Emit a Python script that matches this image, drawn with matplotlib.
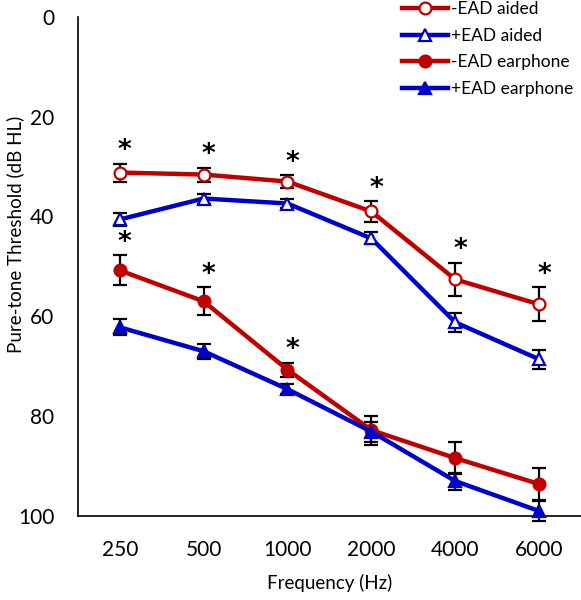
import matplotlib
matplotlib.use("Agg")
import matplotlib.pyplot as plt
import numpy as np

plt.rcParams['font.family'] = ['Lato', 'DejaVu Sans']

freqs = ["250", "500", "1000", "2000", "4000", "6000"]
minus_aided = [31.2, 31.6, 33.0, 39.0, 52.6, 57.6]
minus_aided_err = [1.8, 1.4, 1.3, 2.1, 3.3, 3.4]
plus_aided = [40.6, 36.4, 37.4, 44.4, 61.2, 68.6]
plus_aided_err = [1.3, 1.0, 1.0, 1.2, 1.9, 1.9]
minus_ear = [50.8, 57.0, 70.7, 82.8, 88.4, 93.6]
minus_ear_err = [3.0, 2.8, 1.4, 2.9, 3.2, 3.2]
plus_ear = [62.2, 67.0, 74.6, 83.1, 93.0, 99.0]
plus_ear_err = [1.6, 1.5, 1.0, 2.0, 1.7, 2.0]
sig_aided = [True, True, True, True, True, True]
sig_ear = [True, True, True, False, False, False]

red = "#C00000"
blue = "#0000C8"

fig = plt.figure(figsize=(5.81, 6.0), dpi=100)
ax = fig.add_axes([0.134, 0.14, 0.866, 0.832])
x = np.arange(len(freqs))

series = [
    ("-EAD aided", minus_aided, minus_aided_err, red, "o", "white"),
    ("+EAD aided", plus_aided, plus_aided_err, blue, "^", "white"),
    ("-EAD earphone", minus_ear, minus_ear_err, red, "o", red),
    ("+EAD earphone", plus_ear, plus_ear_err, blue, "^", blue),
]
for label, y, e, c, m, fc in series:
    ax.errorbar(x, y, yerr=e, fmt="none", ecolor="black", elinewidth=1.6,
                capsize=5, capthick=1.6, zorder=3, clip_on=False)
    ax.plot(x, y, color=c, lw=3.2, marker=m, markersize=8.5 if m == "o" else 8,
            markerfacecolor=fc, markeredgecolor=c, markeredgewidth=1.6,
            label=label, zorder=4, clip_on=False)

for i in range(len(freqs)):
    if sig_aided[i]:
        ax.text(x[i] + 0.06, minus_aided[i] - minus_aided_err[i] - 2.5, "*",
                ha="center", va="center", fontsize=19, fontweight="bold",
                family="DejaVu Sans")
    if sig_ear[i]:
        ax.text(x[i] + 0.06, minus_ear[i] - minus_ear_err[i] - 2.5, "*",
                ha="center", va="center", fontsize=19, fontweight="bold",
                family="DejaVu Sans")

ax.set_ylim(100, 0)
ax.set_xlim(-0.5, 5.5)
ax.set_yticks([0, 20, 40, 60, 80, 100])
ax.set_xticks(x)
ax.set_xticklabels(freqs)
ax.tick_params(axis="both", length=0, labelsize=15)
ax.tick_params(axis="y", pad=17)
ax.tick_params(axis="x", pad=17)
for s in ["top", "right"]:
    ax.spines[s].set_visible(False)
ax.spines["left"].set_linewidth(1.2)
ax.spines["bottom"].set_linewidth(1.2)
fig.text(15 / 581, 1 - 234 / 600, "Pure-tone Threshold (dB HL)", rotation=90,
         ha="center", va="center", fontsize=13.5)
fig.text(330 / 581, 1 - 583 / 600, "Frequency (Hz)", ha="center", va="center",
         fontsize=13.5)

leg = ax.legend(loc="upper right", bbox_to_anchor=(1.016, 1.062), frameon=False,
                fontsize=12.5, handlelength=2.65, handletextpad=0.2,
                labelspacing=0.6)

fig.savefig("out.png", dpi=100)
